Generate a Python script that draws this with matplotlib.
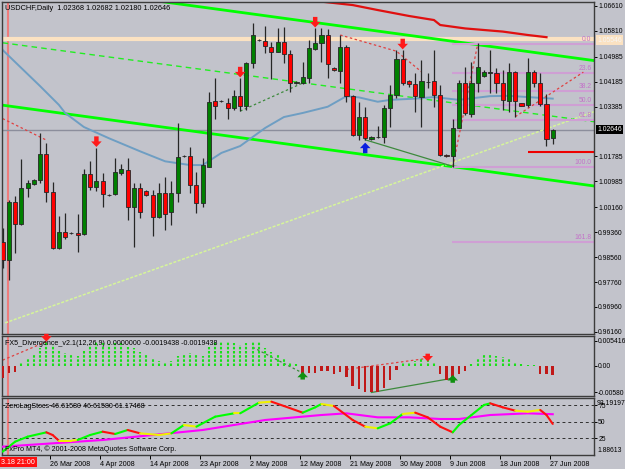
import matplotlib
matplotlib.use('Agg')
import matplotlib.pyplot as plt
from matplotlib.patches import Rectangle

plt.rcParams['font.family'] = ['Liberation Sans', 'DejaVu Sans']

W, H = 625, 469
BG = '#c2c3cb'
FS = 4.9

# USDCHF daily, 17 Mar 2008 .. 27 Jun 2008 (broker prints Sunday sessions too)
opens = [0.9904, 0.9847, 1.0033, 0.9962, 1.0078, 1.0090, 1.0103, 1.0187, 1.0065, 0.9885,
         0.9936, 0.9933, 0.9933, 0.9930, 1.0122, 1.0081, 1.0100, 1.0055, 1.0058, 1.0126,
         1.0135, 1.0017, 1.0078, 1.0068, 1.0055, 0.9985, 1.0061, 1.0001, 1.0061, 1.0180,
         1.0180, 1.0087, 1.0029, 1.0145, 1.0356, 1.0356, 1.0350, 1.0334, 1.0372, 1.0340,
         1.0478, 1.0552, 1.0549, 1.0530, 1.0514, 1.0546, 1.0507, 1.0414, 1.0414, 1.0430,
         1.0523, 1.0542, 1.0568, 1.0462, 1.0453, 1.0530, 1.0372, 1.0247, 1.0305, 1.0235,
         1.0241, 1.0241, 1.0334, 1.0376, 1.0491, 1.0420, 1.0411, 1.0369, 1.0417, 1.0420,
         1.0376, 1.0183, 1.0180, 1.0270, 1.0414, 1.0315, 1.0414, 1.0437, 1.0446, 1.0446,
         1.0414, 1.0356, 1.0449, 1.0350, 1.0344, 1.0449, 1.0414, 1.0347, 1.02368]
highs = [0.9949, 1.0039, 1.0052, 1.0171, 1.0103, 1.0106, 1.0254, 1.0222, 1.0097, 0.9988,
         0.9997, 0.9936, 0.9994, 1.0138, 1.0164, 1.0206, 1.0126, 1.0058, 1.0174, 1.0154,
         1.0174, 1.0094, 1.0094, 1.0071, 1.0071, 1.0094, 1.0113, 1.0100, 1.0286, 1.0183,
         1.0209, 1.0129, 1.0174, 1.0385, 1.0430, 1.0359, 1.0366, 1.0392, 1.0430, 1.0481,
         1.0606, 1.0555, 1.0597, 1.0546, 1.0590, 1.0594, 1.0520, 1.0420, 1.0481, 1.0552,
         1.0590, 1.0590, 1.0587, 1.0465, 1.0568, 1.0536, 1.0376, 1.0353, 1.0337, 1.0244,
         1.0276, 1.0344, 1.0408, 1.0520, 1.0520, 1.0424, 1.0446, 1.0488, 1.0446, 1.0520,
         1.0408, 1.0186, 1.0299, 1.0424, 1.0465, 1.0481, 1.0542, 1.0456, 1.0520, 1.0462,
         1.0456, 1.0478, 1.0453, 1.0350, 1.0494, 1.0456, 1.0446, 1.0379, 1.02682]
lows = [0.9821, 0.9783, 0.9869, 0.9959, 1.0049, 1.0087, 1.0094, 1.0033, 0.9882, 0.9882,
        0.9914, 0.9930, 0.9872, 0.9927, 1.0071, 1.0068, 1.0017, 1.0052, 1.0055, 1.0119,
        0.9975, 0.9888, 0.9981, 1.0052, 0.9924, 0.9981, 0.9943, 0.9959, 1.0033, 1.0177,
        1.0061, 0.9997, 1.0017, 1.0145, 1.0299, 1.0353, 1.0299, 1.0327, 1.0324, 1.0327,
        1.0462, 1.0549, 1.0510, 1.0427, 1.0514, 1.0478, 1.0385, 1.0410, 1.0411, 1.0414,
        1.0520, 1.0481, 1.0430, 1.0453, 1.0414, 1.0353, 1.0244, 1.0231, 1.0231, 1.0231,
        1.0238, 1.0222, 1.0273, 1.0366, 1.0408, 1.0401, 1.0321, 1.0273, 1.0398, 1.0337,
        1.0180, 1.0177, 1.0145, 1.0270, 1.0311, 1.0305, 1.0385, 1.0433, 1.0382, 1.0382,
        1.0327, 1.0321, 1.0305, 1.0340, 1.0337, 1.0401, 1.0340, 1.0212, 1.02180]
closes = [0.9847, 1.0033, 0.9962, 1.0078, 1.0094, 1.0103, 1.0187, 1.0065, 0.9885, 0.9936,
          0.9920, 0.9933, 0.9927, 1.0122, 1.0081, 1.0100, 1.0058, 1.0055, 1.0129, 1.0138,
          1.0017, 1.0078, 1.0001, 1.0055, 0.9985, 1.0061, 0.9994, 1.0061, 1.0177, 1.0180,
          1.0087, 1.0029, 1.0151, 1.0353, 1.0340, 1.0356, 1.0334, 1.0372, 1.0340, 1.0478,
          1.0568, 1.0552, 1.0533, 1.0514, 1.0546, 1.0507, 1.0414, 1.0417, 1.0433, 1.0526,
          1.0542, 1.0568, 1.0475, 1.0456, 1.0530, 1.0372, 1.0247, 1.0305, 1.0238, 1.0241,
          1.0242, 1.0334, 1.0376, 1.0491, 1.0414, 1.0411, 1.0372, 1.0420, 1.0418, 1.0376,
          1.0183, 1.0180, 1.0270, 1.0414, 1.0318, 1.0414, 1.0465, 1.0449, 1.0448, 1.0414,
          1.0360, 1.0449, 1.0356, 1.0340, 1.0449, 1.0414, 1.0347, 1.0235, 1.02646]

# moving averages
ma_bars = [0, 6, 9, 10, 13, 17, 22, 26, 30, 32, 35, 38, 42, 45, 48, 52, 55, 57, 60, 62,
           66, 69, 73, 75, 78, 81, 84, 88]
ma_vals = [1.0520, 1.0404, 1.0344, 1.0318, 1.0273, 1.0237, 1.0195, 1.0163, 1.0151, 1.0151,
           1.0190, 1.0212, 1.0270, 1.0305, 1.0318, 1.0338, 1.0372, 1.0368, 1.0354, 1.0360,
           1.0364, 1.0369, 1.0360, 1.0365, 1.0372, 1.0373, 1.0369, 1.0364]
slow_ma_bars = [50, 51, 56, 60, 65, 69, 70, 74, 80, 84, 87]
slow_ma_vals = [1.0685, 1.0675, 1.0664, 1.0648, 1.0629, 1.0616, 1.0600, 1.0589, 1.0579, 1.0568, 1.0561]

# drawn objects
upper_chan = ([20, 94.6], [1.0690, 1.0486])
lower_chan = ([0, 94.6], [1.0343, 1.0084])
mid_chan = ([0, 94.6], [1.0543, 1.0290])
rise_line = ([0.4, 94.6], [0.9645, 1.0322])
hline_price = 1.05546
bid = 1.02646
stop_line = ([84, 94.6], 1.0194)
fib_hi, fib_lo, fib_from = 1.0539, 1.0146, 72
fib_levels = [0.0, 23.6, 38.2, 50.0, 61.8, 100.0, 161.8]
red_dots = [([0, 7], [1.0300, 1.0231]),
            ([54, 63, 67], [1.0568, 1.0516, 1.0450]),
            ([72, 76], [1.0146, 1.0539]),
            ([82, 92.9], [1.0306, 1.0449])]
green_solid = ([58, 72], [1.0232, 1.0147])
green_dots = ([38, 48], [1.0324, 1.0414])
down_arrows = [(15, 1.0209), (38, 1.0432), (50, 1.0592), (64, 1.0522)]
up_arrows = [(58, 1.0223)]

price_ticks = [1.06610, 1.05810, 1.04985, 1.04185, 1.03385, 1.01785, 1.00985,
               1.00160, 0.99360, 0.98560, 0.97760, 0.96960, 0.96160]

# FX5 divergence histogram
macd = [-0.00273, -0.00165, -0.0013, 0.0005, 0.0014, 0.0023, 0.0038, 0.0052, 0.0045, 0.0032,
        0.0027, 0.0023, 0.0020, 0.0034, 0.0045, 0.0052, 0.0049, 0.0047, 0.0049, 0.0049,
        0.0041, 0.0038, 0.0030, 0.0023, 0.0014, 0.0011, 0.0009, 0.0011, 0.0020, 0.0023,
        0.0027, 0.0023, 0.0020, 0.0041, 0.0052, 0.0054, 0.0052, 0.0050, 0.0045, 0.0049,
        0.0054, 0.0052, 0.0038, 0.0030, 0.0023, 0.0016, 0.0009, 0.0003, -0.0016, -0.0015,
        -0.0015, -0.0011, -0.0011, -0.0018, -0.0013, -0.0025, -0.0043, -0.0051, -0.0058, -0.0058,
        -0.0056, -0.0049, -0.0031, -0.0009, 0.0007, 0.0009, 0.0011, 0.0014, 0.0019, 0.0009,
        -0.0017, -0.0031, -0.0030, -0.0017, -0.0011, 0.0003, 0.0014, 0.0023, 0.0025, 0.0021,
        0.0018, 0.0014, 0.0007, 0.0003, 0.0001, 0.0001, -0.0017, -0.0018, -0.0019438]
macd_red_dots = [([0, 7], [0.0012, 0.0052]), ([55, 68], [-0.0008, 0.0016])]
macd_green_dots = ([40, 48], [0.0040, -0.0016])
macd_green_solid = ([59, 72], [-0.0058, -0.0027])
macd_down = [(7, 0.0052), (68, 0.0009)]
macd_up = [(48, -0.0013), (72, -0.0020)]

# ZeroLag stochastic
stoch_bars = [0, 2, 4, 7, 8, 9, 11, 12, 14, 16, 18, 20, 22, 25, 27, 29, 31, 34, 37, 38,
              41, 43, 45, 48, 50, 51, 53, 56, 58, 60, 62, 64, 66, 68, 70, 72, 73, 75, 77, 78,
              80, 82, 84, 86, 87, 88]
stoch_main = [5, 20, 27.5, 34, 30, 21.5, 21.5, 22.5, 30, 35, 31.5, 37.5, 32.5, 30, 32.5, 45,
              42.5, 57.5, 62.5, 62.5, 78.5, 80, 73.5, 63.5, 71.5, 76.5, 73.5, 52.5, 42.5, 40,
              47.5, 61.5, 63.5, 56.5, 42.5, 34, 45, 60, 75, 77.5, 71.5, 66.5, 65, 67.5, 60,
              46.6158]
sig_bars = [0, 8, 16, 24, 32, 37, 42, 51, 55, 60, 65, 70, 73, 78, 84, 88]
stoch_sig = [12.5, 17.5, 22.5, 30, 37.5, 45, 52.5, 60, 62.5, 56.5, 56.5, 54, 54, 60, 62.5, 61.17468]

date_bars = [8, 16, 24, 32, 40, 48, 56, 64, 72, 80, 88]
date_labels = ['26 Mar 2008', '4 Apr 2008', '14 Apr 2008', '23 Apr 2008', '2 May 2008',
               '12 May 2008', '21 May 2008', '30 May 2008', '9 Jun 2008', '18 Jun 2008',
               '27 Jun 2008']


def box(y0, y1):
    return [2 / W, 1 - y1 / H, 592 / W, (y1 - y0) / H]


fig = plt.figure(figsize=(W / 100, H / 100), dpi=100, facecolor=BG)
ax = fig.add_axes(box(2, 334))
am = fig.add_axes(box(336, 396))
ast = fig.add_axes(box(398, 455))

XL = (-0.1, 94.6)
for a in (ax, am, ast):
    a.set_facecolor(BG)
    a.set_xlim(*XL)
    a.yaxis.tick_right()
    a.tick_params(axis='y', length=2, width=0.7, pad=1, labelsize=FS, colors='black')
    a.tick_params(axis='x', bottom=False, labelbottom=False)
    for s in a.spines.values():
        s.set_color('#3c3c3c')
        s.set_linewidth(1.0)
    # crosshair
    a.axvline(0.87, color='#ee7c7c', lw=1.5, zorder=1)

# ---- main price panel
ax.set_ylim(0.96094, 1.06738)
ax.set_yticks(price_ticks)
ax.set_yticklabels(['%.5f' % p for p in price_ticks])

ax.axhline(hline_price, color='#fbe2c2', lw=3, zorder=1)
ax.axhline(bid, color='#8c8e9c', lw=1, zorder=1)
ax.plot(*upper_chan, color='#00ff00', lw=2, zorder=2)
ax.plot(*lower_chan, color='#00ff00', lw=2, zorder=2)
ax.plot(*mid_chan, color='#22ee22', lw=1, ls=(0, (4, 3)), zorder=2)
ax.plot(*rise_line, color='#d6f59a', lw=1.1, ls=(0, (2, 1)), zorder=2)
ax.plot(ma_bars, ma_vals, color='#6e9ec3', lw=1.4, zorder=2)
ax.plot(slow_ma_bars, slow_ma_vals, color='#e01010', lw=1.6, zorder=2)
ax.hlines(stop_line[1], *stop_line[0], color='#ee0000', lw=1.5, zorder=2)

rng = fib_hi - fib_lo
for lv in fib_levels:
    p = fib_hi - lv / 100 * rng
    ax.hlines(p, fib_from - 0.1, XL[1], color='#cf9fd4', lw=1.5, zorder=2)
    ax.text(94.2, p + 0.0003, '%.1f' % lv, color='#c272c8', fontsize=FS, ha='right',
            va='bottom', zorder=3)

for xs, ys in red_dots:
    ax.plot(xs, ys, color='#e04040', lw=0.9, ls=(0, (2, 2)), zorder=2)
ax.plot(*green_solid, color='#3d8a3d', lw=0.9, zorder=2)
ax.plot(*green_dots, color='#3d8a3d', lw=0.9, ls=(0, (2, 2)), zorder=2)

for j in range(len(opens)):
    o, h, l, c = opens[j], highs[j], lows[j], closes[j]
    col = '#008000' if c >= o else '#ff0000'
    ax.vlines(j, l, h, color='#262626', lw=0.9, zorder=4)
    ax.add_patch(Rectangle((j - 0.33, min(o, c)), 0.66, abs(c - o), facecolor=col,
                           edgecolor='#262626', lw=0.6, zorder=5))

asty = dict(arrowstyle='simple,head_length=0.5,head_width=0.95,tail_width=0.4',
            lw=0, mutation_scale=8, shrinkA=0, shrinkB=0)
for j, tip in down_arrows:
    ax.annotate('', xy=(j, tip), xytext=(j, tip + 0.0034),
                arrowprops=dict(color='#ff1a1a', **asty), zorder=6)
for j, tip in up_arrows:
    ax.annotate('', xy=(j, tip), xytext=(j, tip - 0.0034),
                arrowprops=dict(color='#0a1ee0', **asty), zorder=6)

fig.text(5 / W, 1 - 8 / H, 'USDCHF,Daily  1.02368 1.02682 1.02180 1.02646',
         fontsize=5.3, va='center', ha='left')
fig.text(597 / W, 1 - 40 / H, '%.5f' % hline_price, fontsize=FS, va='center', ha='left',
         color='#f6f6f6', bbox=dict(facecolor='#fbe2c2', edgecolor='none', pad=0.8))
fig.text(597 / W, 1 - 129.5 / H, '%.5f' % bid, fontsize=FS, va='center', ha='left',
         color='white', bbox=dict(facecolor='black', edgecolor='none', pad=0.8))

# ---- divergence histogram
am.set_ylim(-0.00656, 0.00643)
am.set_yticks([0.005416, 0.0, -0.0058])
am.set_yticklabels(['0.005416', '0.00', '-0.00580'])
for j, v in enumerate(macd):
    if v >= 0:
        am.vlines(j, 0, v, color='#19e019', lw=1.5, ls=(0, (1.2, 0.8)), zorder=3)
    else:
        am.bar(j, v, width=0.4, color='#c01818', zorder=3)
for xs, ys in macd_red_dots:
    am.plot(xs, ys, color='#e04040', lw=0.9, ls=(0, (2, 2)), zorder=2)
am.plot(*macd_green_dots, color='#3d8a3d', lw=0.9, ls=(0, (2, 2)), zorder=2)
am.plot(*macd_green_solid, color='#3d8a3d', lw=0.9, zorder=2)
for j, tip in macd_down:
    am.annotate('', xy=(j, tip), xytext=(j, tip + 0.0017),
                arrowprops=dict(color='#ff1a1a', **asty), zorder=6)
for j, tip in macd_up:
    am.annotate('', xy=(j, tip), xytext=(j, tip - 0.0017),
                arrowprops=dict(color='#109010', **asty), zorder=6)
fig.text(5 / W, 1 - 343.5 / H,
         'FX5_Divergence_v2.1(12,26,9) 0.0000000 -0.0019438 -0.0019438',
         fontsize=5.1, va='center', ha='left')

# ---- zero lag stochastic
ast.set_ylim(0, 85.5)
ast.set_yticks([75, 50, 25])
ast.set_yticklabels(['75', '50', '25'])
for lv in (75, 50, 25):
    ast.axhline(lv, color='#303030', lw=0.7, ls=(0, (3, 3)), zorder=1)
ast.plot(sig_bars, stoch_sig, color='#ff00ff', lw=1.5, zorder=3)
for k in range(len(stoch_bars) - 1):
    x0, x1 = stoch_bars[k], stoch_bars[k + 1]
    y0, y1 = stoch_main[k], stoch_main[k + 1]
    slope = (y1 - y0) / (x1 - x0)
    col = '#00ff00' if slope > 1.5 else ('#ff1010' if slope < -1.5 else '#f0f000')
    ast.plot([x0, x1], [y0, y1], color=col, lw=1.5, zorder=4, solid_capstyle='round')
fig.text(597 / W, 1 - 403 / H, '93.19197', fontsize=FS, va='center', ha='left')
fig.text(597 / W, 1 - 450 / H, '1.88613', fontsize=FS, va='center', ha='left')
fig.text(5 / W, 1 - 406 / H, 'ZeroLagStocs 46.61580 46.61580 61.17468',
         fontsize=5.1, va='center', ha='left')
fig.text(5 / W, 1 - 449 / H, 'FxPro MT4, \u00a9 2001-2008 MetaQuotes Software Corp.',
         fontsize=5.1, va='center', ha='left')

ast.set_xticks([b - 0.42 for b in date_bars])
ast.set_xticklabels(date_labels)
ast.tick_params(axis='x', bottom=True, labelbottom=True, length=3, width=0.7, pad=1.5,
                labelsize=5.1, direction='out')
for lab in ast.get_xticklabels():
    lab.set_ha('left')

fig.text(1 / W, 1 - 462 / H, '3.18 21:00', fontsize=5.1, va='center', ha='left',
         color='white', bbox=dict(facecolor='#ff1010', edgecolor='none', pad=1.2))

fig.savefig('out.png', dpi=100, facecolor=BG)
